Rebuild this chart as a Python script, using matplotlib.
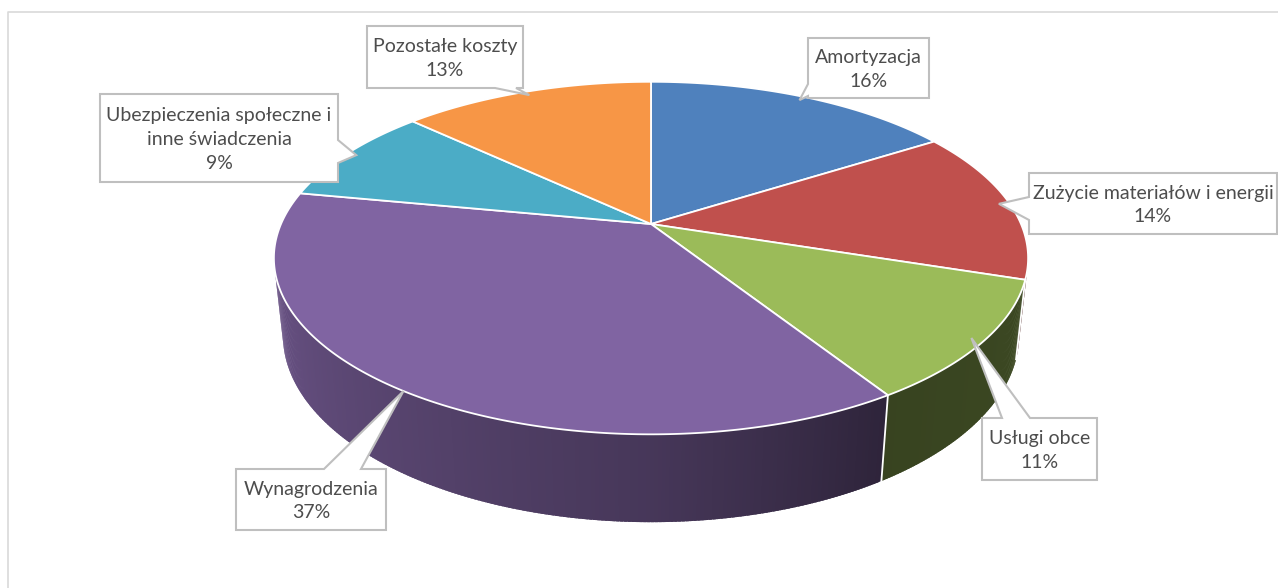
import matplotlib

matplotlib.use("Agg")
import matplotlib.pyplot as plt
import numpy as np
from matplotlib.patches import Polygon

# ── data ─────────────────────────────────────────────────────
CATEGORIES = [
    "Amortyzacja",
    "Zużycie materiałów i energii",
    "Usługi obce",
    "Wynagrodzenia",
    "Ubezpieczenia społeczne i inne świadczenia",
    "Pozostałe koszty",
]
# label text split into lines, same order as CATEGORIES
LABEL_LINES = [
    ["Amortyzacja"],
    ["Zużycie materiałów i energii"],
    ["Usługi obce"],
    ["Wynagrodzenia"],
    ["Ubezpieczenia społeczne i", "inne świadczenia"],
    ["Pozostałe koszty"],
]
SHARES = [16, 14, 11, 37, 9, 13]  # %
COLORS = ["#4F81BD", "#C0504D", "#9BBB59", "#8064A2", "#4BACC6", "#F79646"]

# ── canvas / 3D view ─────────────────────────────────────────
W, H = 1278, 588
CX, CY = 651, 224  # screen position of pie centre
ALPHA = np.radians(27.3)  # camera elevation
DIST = 4.60  # camera distance (pie radius = 1)
FOCAL = 1702
THICK = 0.237  # pie height

# callout boxes: (x0, y0, x1, y1), side carrying the pointer, pointer base
BOXES = [
    ((808, 38, 929, 98), "left", (84, 96)),
    ((1029, 173, 1277, 234), "left", (197, 220)),
    ((982, 418, 1097, 480), "top", (1002, 1030)),
    ((236, 469, 386, 530), "top", (324, 361)),
    ((100, 94, 338, 182), "right", (140, 163)),
    ((367, 26, 523, 88), "bottom", (495, 516)),
]
# how far in from the rim each pointer ends
TIP_RADIUS = [0.97, 0.97, 0.97, 1.0, 0.97, 0.97]


def project(theta, y=0.0, r=1.0):
    """theta measured clockwise from the back of the pie, y = height."""
    s, c = np.sin(ALPHA), np.cos(ALPHA)
    x3 = r * np.sin(theta)
    z3 = -r * np.cos(theta)  # +z points towards the viewer
    depth = DIST - y * s - z3 * c
    v = y * c - z3 * s
    return CX + FOCAL * x3 / depth, CY - FOCAL * v / depth


def shade(color, k):
    rgb = np.array(matplotlib.colors.to_rgb(color))
    return tuple(np.clip(rgb * k, 0, 1))


def wall_light(theta):
    # light comes from the left: bright on the left flank, dark front-right
    deg = np.degrees(theta)
    return np.interp(deg, [90, 147.6, 180, 270], [0.40, 0.36, 0.55, 0.87])


def callout(rect, side, base, tip):
    x0, y0, x1, y1 = rect
    a, b = base
    pts = [(x0, y0)]
    if side == "top":
        pts += [(a, y0), tip, (b, y0)]
    pts += [(x1, y0)]
    if side == "right":
        pts += [(x1, a), tip, (x1, b)]
    pts += [(x1, y1)]
    if side == "bottom":
        pts += [(b, y1), tip, (a, y1)]
    pts += [(x0, y1)]
    if side == "left":
        pts += [(x0, b), tip, (x0, a)]
    return pts


plt.rcParams["font.family"] = ["Lato", "DejaVu Sans"]

fig = plt.figure(figsize=(W / 100, H / 100), dpi=100)
ax = fig.add_axes((0, 0, 1, 1))
ax.set_xlim(0, W)
ax.set_ylim(H, 0)
ax.axis("off")

# chart area border
ax.plot([8, 8, W], [H, 12, 12], color="#D9D9D9", lw=1.2, zorder=1)

fractions = np.array(SHARES, dtype=float) / sum(SHARES)
bounds = np.concatenate([[0.0], np.cumsum(fractions)]) * 2 * np.pi

# side wall: only the part facing the camera
vis_cos = -1.0 / (DIST * np.cos(ALPHA))
step = np.radians(0.5)
overlap = np.radians(0.4)
for i, color in enumerate(COLORS):
    a, b = bounds[i], bounds[i + 1]
    steps = np.arange(a, b, step)
    steps = np.append(steps, b)
    for t0, t1 in zip(steps[:-1], steps[1:]):
        tm = 0.5 * (t0 + t1)
        if np.cos(tm) > vis_cos:
            continue
        t1e = min(t1 + overlap, b)  # small overlap hides seams
        xa, ya = project(t0)
        xb, yb = project(t1e)
        xc, yc = project(t1e, -THICK)
        xd, yd = project(t0, -THICK)
        ax.add_patch(
            Polygon(
                [(xa, ya), (xb, yb), (xc, yc), (xd, yd)],
                closed=True,
                facecolor=shade(color, wall_light(tm)),
                edgecolor="none",
                zorder=2,
            )
        )

# white seams between walls
for t in bounds[1:-1]:
    if np.cos(t) < vis_cos:
        x_top, y_top = project(t)
        x_bot, y_bot = project(t, -THICK)
        ax.plot([x_top, x_bot], [y_top, y_bot], color="white", lw=1.3, zorder=2.5)

# top face
for i, color in enumerate(COLORS):
    th = np.linspace(bounds[i], bounds[i + 1], 200)
    xs, ys = project(th)
    pts = [(CX, CY)] + list(zip(xs, ys))
    ax.add_patch(
        Polygon(pts, closed=True, facecolor=color, edgecolor="white", lw=1.3, zorder=3)
    )

# data labels in callouts
for i, lines in enumerate(LABEL_LINES):
    rect, side, base = BOXES[i]
    mid = 0.5 * (bounds[i] + bounds[i + 1])
    tip = project(mid, 0.0, TIP_RADIUS[i])
    ax.add_patch(
        Polygon(
            callout(rect, side, base, tip),
            closed=True,
            facecolor="white",
            edgecolor="#BFBFBF",
            lw=1.5,
            joinstyle="miter",
            zorder=4,
        )
    )
    text = lines + [f"{SHARES[i]}%"]
    xc = 0.5 * (rect[0] + rect[2])
    ymid = 0.5 * (rect[1] + rect[3])
    n = len(text)
    for j, line in enumerate(text):
        yb = ymid + 7 + (j - (n - 1) / 2) * 24
        ax.text(xc, yb, line, ha="center", va="baseline", fontsize=14,
                color="#4D4D4D", zorder=5)

fig.savefig("out.png", dpi=100)
